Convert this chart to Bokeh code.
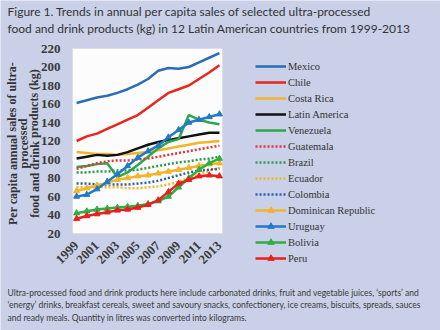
from bokeh.plotting import figure
from bokeh.models import Label, Legend, LegendItem, FixedTicker, Range1d, BoxAnnotation
from bokeh.embed import file_html
from bokeh.resources import INLINE

years = list(range(1999, 2014))
mexico = [161, 164, 167, 169, 172, 176, 181, 187, 196, 199, 198, 200, 205, 210, 215]
chile = [120, 125, 128, 133, 138, 143, 148, 156, 164, 172, 176, 180, 187, 194, 202]
costa_rica = [108, 107, 106, 106, 105, 106, 107, 108, 110, 112, 114, 116, 118, 119, 120]
latin_america = [101, 103, 105, 104, 105, 108, 112, 116, 119, 121, 123, 125, 127, 129, 129]
venezuela = [92, 93, 95, 96, 81, 86, 94, 103, 112, 119, 122, 148, 143, 140, 138]
guatemala = [90, 93, 96, 98, 99, 99, 100, 101, 103, 105, 107, 109, 111, 113, 115]
brazil = [86, 86, 87, 87, 88, 88, 89, 91, 93, 95, 97, 98, 100, 101, 103]
ecuador = [70, 70, 70, 70, 70, 69, 69, 70, 71, 73, 76, 80, 84, 88, 91]
colombia = [74, 74, 73, 73, 73, 73, 74, 75, 77, 80, 83, 86, 88, 89, 90]
dominican = [66, 69, 72, 75, 78, 80, 82, 83, 85, 87, 89, 91, 93, 95, 96]
uruguay = [60, 62, 68, 76, 84, 93, 102, 109, 115, 124, 132, 140, 143, 146, 149]
bolivia = [42, 44, 46, 47, 48, 49, 50, 52, 55, 60, 70, 80, 89, 96, 101]
peru = [36, 39, 41, 43, 45, 46, 48, 51, 56, 65, 74, 78, 82, 83, 82]
tick_years = [1999, 2001, 2003, 2005, 2007, 2009, 2011, 2013]

W, H = 440, 330
# plot-area placement in canvas pixels
PL, PR, PT, PB = 72, 222, 48, 233
X0, X1, Y0, Y1 = 1998.6, 2013.3, 20, 220
kx = (PR - PL) / (X1 - X0)
ky = (PB - PT) / (Y1 - Y0)
xr = Range1d(X0 - PL / kx, X1 + (W - PR) / kx)
yr = Range1d(Y0 - (H - PB) / ky, Y1 + PT / ky)

BG = "#c9d0e8"
p = figure(width=W, height=H, output_backend="svg", toolbar_location=None,
           x_range=xr, y_range=yr, min_border=0)
p.background_fill_color = BG
p.border_fill_color = BG
p.outline_line_color = None
p.xgrid.visible = False
p.ygrid.visible = False
p.add_layout(BoxAnnotation(left=X0, right=X1, bottom=Y0, top=Y1, fill_color="#fcfcfc",
                           fill_alpha=1, line_color="#d0d0d0", line_width=1, level="underlay"))
for ax in (p.xaxis[0], p.yaxis[0]):
    ax.axis_line_color = None
    ax.major_tick_line_color = None
    ax.minor_tick_line_color = None
    ax.major_label_text_font = "Liberation Serif"
    ax.major_label_text_font_style = "bold"
    ax.major_label_text_font_size = "13px"
    ax.major_label_text_color = "#3a3a3a"
p.xaxis.fixed_location = Y0
p.yaxis.fixed_location = X0
p.xaxis.ticker = FixedTicker(ticks=tick_years)
p.yaxis.ticker = FixedTicker(ticks=list(range(20, 221, 20)))
p.xaxis.major_label_orientation = 0.785
p.yaxis.major_label_standoff = 6
p.xaxis.major_label_standoff = 4

series = [
    ("Mexico", mexico, "#2a6db5", None, None),
    ("Chile", chile, "#e8261e", None, None),
    ("Costa Rica", costa_rica, "#f1b52a", None, None),
    ("Latin America", latin_america, "#111111", None, None),
    ("Venezuela", venezuela, "#2fa84a", None, None),
    ("Guatemala", guatemala, "#e0343a", "2 2", None),
    ("Brazil", brazil, "#2a9a4a", "2 2", None),
    ("Ecuador", ecuador, "#f1b52a", "2 2", None),
    ("Colombia", colombia, "#2a5fb0", "2 2", None),
    ("Dominican Republic", dominican, "#f1b52a", None, "triangle"),
    ("Uruguay", uruguay, "#2279c6", None, "triangle"),
    ("Bolivia", bolivia, "#2fae44", None, "triangle"),
    ("Peru", peru, "#e8201c", None, "triangle"),
]
items = []
for name, vals, col, dash, marker in series:
    kw = {}
    if dash:
        kw["line_dash"] = dash
    r = p.line(years, vals, line_color=col, line_width=2.5, **kw)
    rs = [r]
    if marker:
        m = p.scatter(years, vals, marker=marker, size=6, fill_color=col, line_color=col)
        rs.append(m)
    items.append(LegendItem(label=name, renderers=rs))

legend = Legend(items=items, location=(255, H - 266), orientation="vertical")
legend.background_fill_alpha = 0
legend.border_line_color = None
legend.label_text_font = "Liberation Serif"
legend.label_text_font_size = "10.5px"
legend.label_text_color = "#333333"
legend.glyph_width = 31
legend.glyph_height = 16
legend.label_height = 16
legend.spacing = 0
legend.padding = 0
legend.margin = 0
legend.label_standoff = 2
p.add_layout(legend)

def lab(X, Y, text, size, font="Lato", style="normal", angle=0.0, align="left", color="#3a3a3a"):
    p.add_layout(Label(x=X, y=H - Y, x_units="screen", y_units="screen", text=text,
                       text_font=font, text_font_size=size, text_font_style=style,
                       angle=angle, text_align=align, text_baseline="middle", text_color=color))

lab(7, 11, "Figure 1. Trends in annual per capita sales of selected ultra-processed", "12px", color="#333333")
lab(7, 28, "food and drink products (kg) in 12 Latin American countries from 1999-2013", "12px", color="#333333")
lab(12, 143, "Per capita annual sales of ultra-", "12px", font="Liberation Serif", style="bold", angle=1.5708, align="center", color="#333333")
lab(23, 143, "processed", "12px", font="Liberation Serif", style="bold", angle=1.5708, align="center", color="#333333")
lab(34, 143, "food and drink products (kg)", "12px", font="Liberation Serif", style="bold", angle=1.5708, align="center", color="#333333")
lab(7, 292, "Ultra-processed food and drink products here include carbonated drinks, fruit and vegetable juices, \u2018sports\u2019 and", "8.5px")
lab(7, 304, "\u2018energy\u2019 drinks, breakfast cereals, sweet and savoury snacks, confectionery, ice creams, biscuits, spreads, sauces", "8.5px")
lab(7, 317, "and ready meals. Quantity in litres was converted into kilograms.", "8.5px")

open("out.html", "w").write(file_html(p, INLINE))
